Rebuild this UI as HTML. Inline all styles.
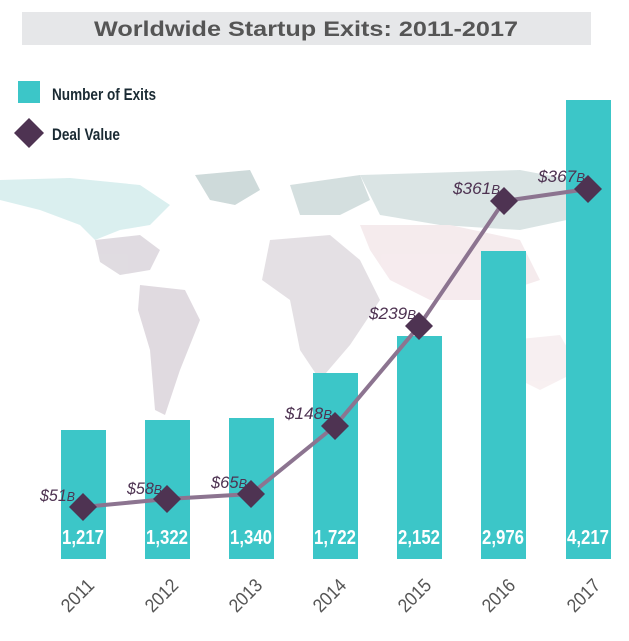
<!DOCTYPE html>
<html><head><style>
body{margin:0;background:#fff;}
</style></head><body>
<svg width="629" height="636" viewBox="0 0 629 636" xmlns="http://www.w3.org/2000/svg" font-family="'Liberation Sans',sans-serif">
<rect x="22" y="12" width="569" height="33" fill="#e6e7e9"/>
<text x="306" y="36" text-anchor="middle" font-size="21" font-weight="bold" fill="#555" textLength="424" lengthAdjust="spacingAndGlyphs">Worldwide Startup Exits: 2011-2017</text>
<g opacity="0.9">
<path d="M0 180 L70 178 L140 185 L170 205 L150 225 L120 230 L95 240 L80 225 L40 210 L0 200Z" fill="#d6eeee"/>
<path d="M195 175 L250 170 L260 190 L235 205 L210 200Z" fill="#c9d6d6"/>
<path d="M95 240 L140 235 L160 250 L150 270 L120 275 L100 262Z" fill="#ddd8de"/>
<path d="M140 285 L185 290 L200 320 L180 370 L165 415 L155 410 L150 350 L138 310Z" fill="#ddd6dd"/>
<path d="M290 185 L360 175 L370 200 L340 215 L300 215Z" fill="#d0dcdc"/>
<path d="M360 175 L520 170 L600 185 L590 215 L520 230 L440 225 L380 215Z" fill="#d6e2e2"/>
<path d="M270 240 L330 235 L360 260 L380 300 L350 345 L320 380 L300 350 L290 300 L262 280Z" fill="#e2dde2"/>
<path d="M360 225 L450 225 L520 240 L540 280 L480 300 L430 300 L390 280 L370 250Z" fill="#f5e9ec"/>
<path d="M510 340 L560 335 L580 370 L540 390 L510 375Z" fill="#f7eef0"/>
</g>
<rect x="18" y="81" width="22" height="22" fill="#3cc6c8"/>
<text x="52" y="100" font-size="17" font-weight="bold" fill="#1a2a33" textLength="104" lengthAdjust="spacingAndGlyphs">Number of Exits</text>
<polygon points="29,118 44,133 29,148 14,133" fill="#4e3352"/>
<text x="52" y="140" font-size="17" font-weight="bold" fill="#1a2a33" textLength="68" lengthAdjust="spacingAndGlyphs">Deal Value</text>
<g fill="#3cc6c8">
<rect x="61" y="430" width="45" height="129"/>
<rect x="145" y="420" width="45" height="139"/>
<rect x="229" y="418" width="45" height="141"/>
<rect x="313" y="373" width="45" height="186"/>
<rect x="397" y="336" width="45" height="223"/>
<rect x="481" y="251" width="45" height="308"/>
<rect x="566" y="100" width="45" height="459"/>
</g>
<g fill="#fff" font-size="20" font-weight="bold" text-anchor="middle">
<text x="83" y="544" textLength="42" lengthAdjust="spacingAndGlyphs">1,217</text>
<text x="167" y="544" textLength="42" lengthAdjust="spacingAndGlyphs">1,322</text>
<text x="251" y="544" textLength="42" lengthAdjust="spacingAndGlyphs">1,340</text>
<text x="335" y="544" textLength="42" lengthAdjust="spacingAndGlyphs">1,722</text>
<text x="419" y="544" textLength="42" lengthAdjust="spacingAndGlyphs">2,152</text>
<text x="503" y="544" textLength="42" lengthAdjust="spacingAndGlyphs">2,976</text>
<text x="588" y="544" textLength="42" lengthAdjust="spacingAndGlyphs">4,217</text>
</g>
<polyline points="83,507 167,499 251,494 335,426 419,326 504,201 588,189" fill="none" stroke="#8c7490" stroke-width="4"/>
<g fill="#4e3352">
<polygon points="83,493 97,507 83,521 69,507"/>
<polygon points="167,485 181,499 167,513 153,499"/>
<polygon points="251,480 265,494 251,508 237,494"/>
<polygon points="335,412 349,426 335,440 321,426"/>
<polygon points="419,312 433,326 419,340 405,326"/>
<polygon points="504,187 518,201 504,215 490,201"/>
<polygon points="588,175 602,189 588,203 574,189"/>
</g>
<g fill="#4e3352" font-size="17" font-style="italic">
<text x="40" y="501" textLength="35" lengthAdjust="spacingAndGlyphs">$51<tspan font-size="13">B</tspan></text>
<text x="127" y="494" textLength="35" lengthAdjust="spacingAndGlyphs">$58<tspan font-size="13">B</tspan></text>
<text x="211" y="488" textLength="36" lengthAdjust="spacingAndGlyphs">$65<tspan font-size="13">B</tspan></text>
<text x="285" y="419" textLength="47" lengthAdjust="spacingAndGlyphs">$148<tspan font-size="13">B</tspan></text>
<text x="369" y="319" textLength="47" lengthAdjust="spacingAndGlyphs">$239<tspan font-size="13">B</tspan></text>
<text x="453" y="194" textLength="47" lengthAdjust="spacingAndGlyphs">$361<tspan font-size="13">B</tspan></text>
<text x="538" y="182" textLength="47" lengthAdjust="spacingAndGlyphs">$367<tspan font-size="13">B</tspan></text>
</g>
<g fill="#555" font-size="19" text-anchor="middle">
<text transform="translate(82,600) rotate(-45)" textLength="38" lengthAdjust="spacingAndGlyphs">2011</text>
<text transform="translate(166,600) rotate(-45)" textLength="38" lengthAdjust="spacingAndGlyphs">2012</text>
<text transform="translate(250,600) rotate(-45)" textLength="38" lengthAdjust="spacingAndGlyphs">2013</text>
<text transform="translate(334,600) rotate(-45)" textLength="38" lengthAdjust="spacingAndGlyphs">2014</text>
<text transform="translate(419,600) rotate(-45)" textLength="38" lengthAdjust="spacingAndGlyphs">2015</text>
<text transform="translate(503,600) rotate(-45)" textLength="38" lengthAdjust="spacingAndGlyphs">2016</text>
<text transform="translate(588,600) rotate(-45)" textLength="38" lengthAdjust="spacingAndGlyphs">2017</text>
</g>
</svg>
</body></html>
